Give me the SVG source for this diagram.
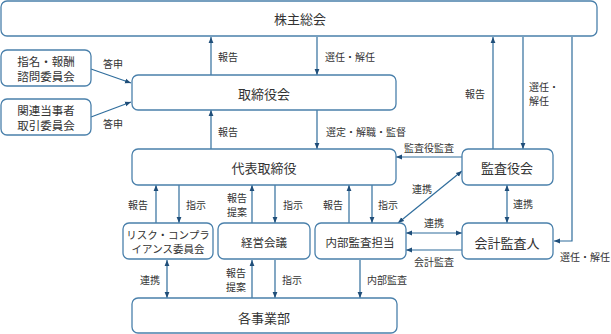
<svg xmlns="http://www.w3.org/2000/svg" width="611" height="334" viewBox="0 0 611 334">
<style>
.box{fill:#fff;stroke:#4a80ab;stroke-width:1.3}
.t{font-family:"Noto Sans CJK JP","Noto Sans",sans-serif;fill:#333;text-anchor:middle;dominant-baseline:central}
.b13{font-size:13px}
.b12{font-size:11.5px}
.b10{font-size:10.5px}
.l{font-size:10px}
.c{fill:none;stroke:#2f6d9c;stroke-width:1.2}
</style>
<defs>
<marker id="ah" viewBox="0 0 6 6" refX="6" refY="3" markerWidth="6" markerHeight="6" markerUnits="userSpaceOnUse" orient="auto-start-reverse">
<path d="M0,0.6 L6,3 L0,5.4 Z" fill="#1f4e79"/>
</marker>
</defs>
<g id="connectors">
<line class="c" x1="91" y1="69" x2="131" y2="83" marker-end="url(#ah)"/>
<line class="c" x1="91" y1="117" x2="131" y2="102" marker-end="url(#ah)"/>
<line class="c" x1="211" y1="75" x2="211" y2="37" marker-end="url(#ah)"/>
<line class="c" x1="317" y1="37" x2="317" y2="75" marker-end="url(#ah)"/>
<line class="c" x1="211" y1="149" x2="211" y2="110" marker-end="url(#ah)"/>
<line class="c" x1="317" y1="110" x2="317" y2="149" marker-end="url(#ah)"/>
<line class="c" x1="462" y1="157" x2="396" y2="157" marker-end="url(#ah)"/>
<line class="c" x1="493" y1="149" x2="493" y2="37" marker-end="url(#ah)"/>
<line class="c" x1="523" y1="37" x2="523" y2="149" marker-end="url(#ah)"/>
<polyline class="c" points="572,37 572,241 554,241" marker-end="url(#ah)"/>
<line class="c" x1="462" y1="171" x2="398" y2="223" marker-start="url(#ah)" marker-end="url(#ah)"/>
<line class="c" x1="507" y1="185" x2="507" y2="223" marker-start="url(#ah)" marker-end="url(#ah)"/>
<line class="c" x1="406" y1="233" x2="462" y2="233" marker-start="url(#ah)" marker-end="url(#ah)"/>
<line class="c" x1="462" y1="250" x2="406" y2="250" marker-end="url(#ah)"/>
<line class="c" x1="156" y1="223" x2="156" y2="185" marker-end="url(#ah)"/>
<line class="c" x1="179" y1="185" x2="179" y2="223" marker-end="url(#ah)"/>
<line class="c" x1="252" y1="223" x2="252" y2="185" marker-end="url(#ah)"/>
<line class="c" x1="275" y1="185" x2="275" y2="223" marker-end="url(#ah)"/>
<line class="c" x1="349" y1="223" x2="349" y2="185" marker-end="url(#ah)"/>
<line class="c" x1="372" y1="185" x2="372" y2="223" marker-end="url(#ah)"/>
<line class="c" x1="167" y1="260" x2="167" y2="298" marker-start="url(#ah)" marker-end="url(#ah)"/>
<line class="c" x1="252" y1="298" x2="252" y2="260" marker-end="url(#ah)"/>
<line class="c" x1="275" y1="260" x2="275" y2="298" marker-end="url(#ah)"/>
<line class="c" x1="360" y1="260" x2="360" y2="298" marker-end="url(#ah)"/>
</g>
<g id="labels">
<text class="t l" x="113" y="63">答申</text>
<text class="t l" x="113" y="123">答申</text>
<text class="t l" x="228" y="56">報告</text>
<text class="t l" x="350" y="56">選任・解任</text>
<text class="t l" x="228" y="131">報告</text>
<text class="t l" x="366" y="131">選定・解職・監督</text>
<text class="t l" x="475" y="93">報告</text>
<text class="t l" x="544" y="86">選任・</text>
<text class="t l" x="539" y="100">解任</text>
<text class="t l" x="429" y="147">監査役監査</text>
<text class="t l" x="422" y="188">連携</text>
<text class="t l" x="138" y="204">報告</text>
<text class="t l" x="196" y="204">指示</text>
<text class="t l" x="237" y="197">報告</text>
<text class="t l" x="237" y="211">提案</text>
<text class="t l" x="293" y="204">指示</text>
<text class="t l" x="333" y="204">報告</text>
<text class="t l" x="388" y="204">指示</text>
<text class="t l" x="523" y="203">連携</text>
<text class="t l" x="434" y="222">連携</text>
<text class="t l" x="434" y="261">会計監査</text>
<text class="t l" x="585" y="256">選任・解任</text>
<text class="t l" x="150" y="279">連携</text>
<text class="t l" x="236" y="272">報告</text>
<text class="t l" x="236" y="286">提案</text>
<text class="t l" x="292" y="279">指示</text>
<text class="t l" x="387" y="279">内部監査</text>
</g>
<g id="n-shareholders"><rect class="box" x="1" y="1" width="596" height="35" rx="6"/><text class="t b13" x="300" y="18">株主総会</text></g>
<g id="n-nomination"><rect class="box" x="1" y="50" width="90" height="36" rx="6"/><text class="t b12" x="46" y="61">指名・報酬</text><text class="t b12" x="46" y="76">諮問委員会</text></g>
<g id="n-related"><rect class="box" x="1" y="99" width="90" height="36" rx="6"/><text class="t b12" x="46" y="110">関連当事者</text><text class="t b12" x="46" y="125">取引委員会</text></g>
<g id="n-board"><rect class="box" x="132" y="75" width="264" height="35" rx="6"/><text class="t b13" x="264" y="93">取締役会</text></g>
<g id="n-ceo"><rect class="box" x="132" y="149" width="264" height="36" rx="6"/><text class="t b13" x="264" y="167">代表取締役</text></g>
<g id="n-auditors"><rect class="box" x="462" y="149" width="91" height="36" rx="6"/><text class="t b13" x="507" y="167">監査役会</text></g>
<g id="n-risk"><rect class="box" x="123" y="223" width="90" height="36" rx="6"/><text class="t b10" x="168" y="234">リスク・コンプラ</text><text class="t b10" x="168" y="248">イアンス委員会</text></g>
<g id="n-mgmt"><rect class="box" x="218" y="223" width="92" height="36" rx="6"/><text class="t b12" x="264" y="242">経営会議</text></g>
<g id="n-internal"><rect class="box" x="315" y="223" width="91" height="36" rx="6"/><text class="t b12" x="360" y="242">内部監査担当</text></g>
<g id="n-accountant"><rect class="box" x="462" y="223" width="91" height="36" rx="6"/><text class="t b13" x="507" y="242">会計監査人</text></g>
<g id="n-divisions"><rect class="box" x="132" y="298" width="265" height="35" rx="6"/><text class="t b13" x="264" y="317">各事業部</text></g>
</svg>
